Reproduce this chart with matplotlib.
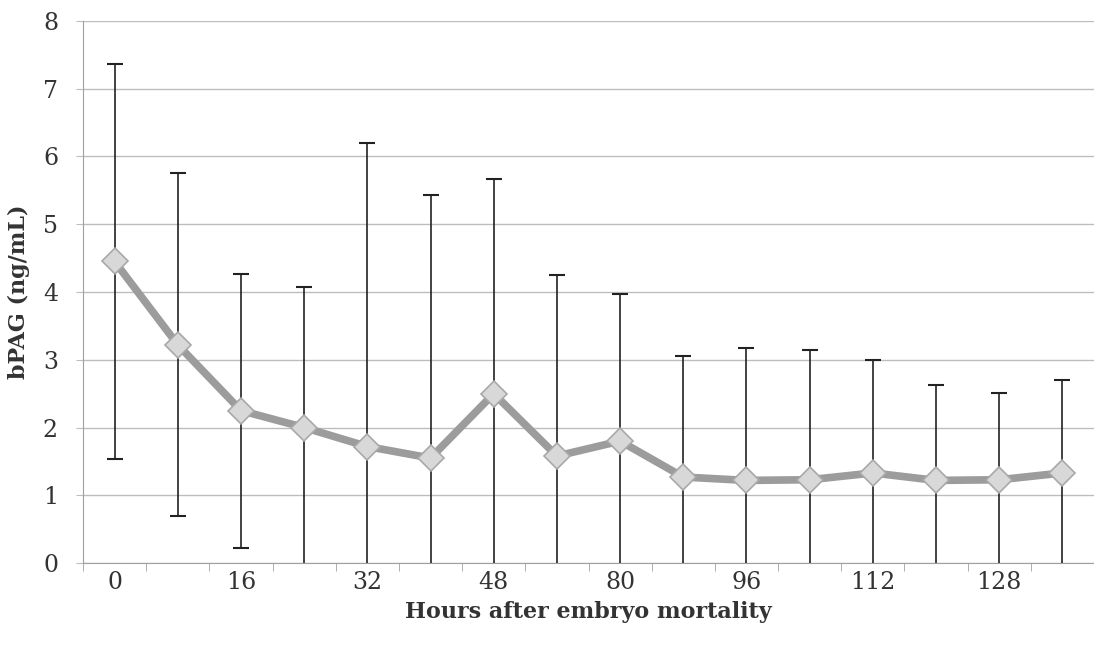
import matplotlib
matplotlib.use("Agg")
import matplotlib.pyplot as plt
import numpy as np

# hours after embryo mortality (only every other one is labelled on the axis)
hours = [0, 8, 16, 24, 32, 40, 48, 64, 80, 88, 96, 104, 112, 120, 128, 136]
bpag_mean = [4.45, 3.22, 2.25, 2.00, 1.72, 1.55, 2.50, 1.58, 1.80, 1.27,
             1.22, 1.23, 1.33, 1.22, 1.23, 1.33]
bpag_sd = [2.92, 2.53, 2.02, 2.08, 4.48, 3.88, 3.17, 2.67, 2.17, 1.79,
           1.95, 1.92, 1.66, 1.41, 1.28, 1.37]

plt.rcParams['font.family'] = ['DejaVu Serif', 'Liberation Serif']

fig = plt.figure(figsize=(10.94, 6.51), dpi=100)
ax = fig.add_axes([0.0759, 0.135, 0.9241, 0.833])

x = np.arange(len(hours))
ax.errorbar(x, bpag_mean, yerr=bpag_sd, fmt='none', ecolor='#222222',
            elinewidth=1.2, capsize=6, capthick=1.5, zorder=3)
ax.plot(x, bpag_mean, color='#9c9c9c', lw=5.5, zorder=4,
        marker='D', markersize=13, markerfacecolor='#d8d8d8',
        markeredgecolor='#a8a8a8', markeredgewidth=1.2)

ax.set_xlim(-0.5, len(hours) - 0.55)
ax.set_ylim(0, 8)
ax.set_yticks(range(0, 9))
ax.yaxis.grid(True, color='#bdbdbd', lw=1)
ax.set_axisbelow(True)

ax.set_xticks(x)
ax.set_xticklabels([str(h) if i % 2 == 0 else '' for i, h in enumerate(hours)])
ax.set_xticks(np.arange(-0.5, len(hours), 1), minor=True)
ax.tick_params(axis='x', which='major', length=0, pad=6, labelsize=17,
               labelcolor='#333333')
ax.tick_params(axis='x', which='minor', length=6, color='#a0a0a0')
ax.tick_params(axis='y', length=5, color='#bdbdbd', pad=13, labelsize=17,
               labelcolor='#333333')

for s in ['top', 'right']:
    ax.spines[s].set_visible(False)
ax.spines['left'].set_color('#a0a0a0')
ax.spines['bottom'].set_color('#a0a0a0')

ax.set_xlabel('Hours after embryo mortality', fontsize=16, fontweight='bold',
              color='#333333', labelpad=5)
ax.set_ylabel('bPAG (ng/mL)', fontsize=16, fontweight='bold',
              color='#333333', labelpad=9)

fig.savefig('out.png', dpi=100)
